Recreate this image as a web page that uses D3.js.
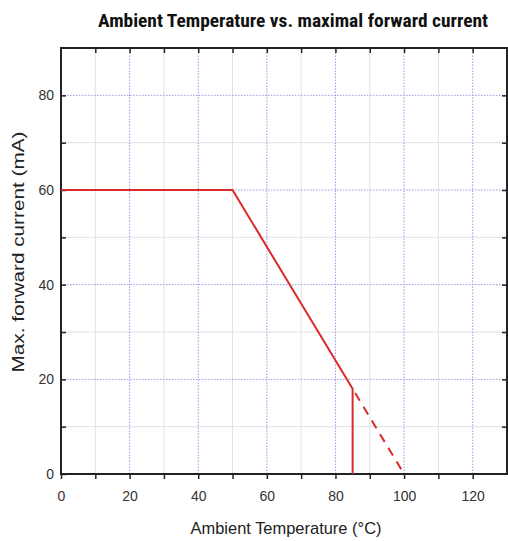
<!DOCTYPE html>
<html>
<head>
<meta charset="utf-8">
<script src="https://cdn.jsdelivr.net/npm/d3@7"></script>
<style>
  body { margin: 0; background: #fff; }
</style>
</head>
<body>
<svg id="chart"></svg>
<script>
// derating curve: max forward current vs ambient temperature
const solidTemp = [0, 50, 85, 85];
const solidCurrent = [60, 60, 18, 0];
const dashedTemp = [85, 100];
const dashedCurrent = [18, 0];
const xTicks = [0, 20, 40, 60, 80, 100, 120];
const yTicks = [0, 20, 40, 60, 80];

const width = 508;
const height = 541;
const margin = { top: 48, right: 0, bottom: 67, left: 61 };

const svg = d3.select("#chart").attr("width", width).attr("height", height);

const x = d3.scaleLinear([0, 130], [margin.left, width - margin.right - 1]);
const y = d3.scaleLinear([0, 90], [height - margin.bottom, margin.top]);

const font = "Arial, 'Liberation Sans', sans-serif";

// minor grid (solid light grey)
svg.append("g")
  .selectAll("line")
  .data(d3.range(10, 130, 20))
  .join("line")
  .attr("x1", (d) => x(d)).attr("x2", (d) => x(d))
  .attr("y1", y(0)).attr("y2", y(90))
  .style("stroke", "#e2e2e2");
svg.append("g")
  .selectAll("line")
  .data(d3.range(10, 90, 20))
  .join("line")
  .attr("y1", (d) => y(d)).attr("y2", (d) => y(d))
  .attr("x1", x(0)).attr("x2", x(130))
  .style("stroke", "#e2e2e2");

// major grid (dotted blue)
svg.append("g")
  .selectAll("line")
  .data(xTicks.slice(1))
  .join("line")
  .attr("x1", (d) => x(d)).attr("x2", (d) => x(d))
  .attr("y1", y(0)).attr("y2", y(90))
  .style("stroke", "#9a9ae6")
  .style("stroke-dasharray", "1.5,1.5");
svg.append("g")
  .selectAll("line")
  .data(yTicks.slice(1))
  .join("line")
  .attr("y1", (d) => y(d)).attr("y2", (d) => y(d))
  .attr("x1", x(0)).attr("x2", x(130))
  .style("stroke", "#9a9ae6")
  .style("stroke-dasharray", "1.5,1.5");

// axes
const styleAxis = (g) => {
  g.select(".domain").remove();
  g.selectAll(".tick line").style("stroke", "#222").style("stroke-width", 1.5);
  g.selectAll(".tick text").style("font-family", font).style("font-size", "14px").style("fill", "#333");
};

svg.append("g")
  .attr("transform", `translate(0,${y(0)})`)
  .call(d3.axisBottom(x).tickValues(d3.range(0, 130, 10)).tickSize(5).tickPadding(12)
    .tickFormat((d) => (xTicks.includes(d) ? d : "")))
  .call(styleAxis);

svg.append("g")
  .attr("transform", `translate(0,${y(90)})`)
  .call(d3.axisBottom(x).tickValues(d3.range(10, 130, 10)).tickSize(5).tickFormat(""))
  .call(styleAxis);

svg.append("g")
  .attr("transform", `translate(${x(0)},0)`)
  .call(d3.axisRight(y).tickValues(d3.range(0, 90, 10)).tickSize(5)
    .tickFormat(""))
  .call(styleAxis);

svg.append("g")
  .attr("transform", `translate(${x(0)},0)`)
  .call(d3.axisLeft(y).tickValues(yTicks).tickSize(0).tickPadding(7))
  .call(styleAxis);

svg.append("g")
  .attr("transform", `translate(${x(130)},0)`)
  .call(d3.axisLeft(y).tickValues(d3.range(10, 90, 10)).tickSize(5).tickFormat(""))
  .call(styleAxis);

// frame
svg.append("rect")
  .attr("x", x(0)).attr("y", y(90))
  .attr("width", x(130) - x(0)).attr("height", y(0) - y(90))
  .style("fill", "none")
  .style("stroke", "#222")
  .style("stroke-width", 2);

// curves
const line = d3.line().x((d) => x(d[0])).y((d) => y(d[1]));

svg.append("path")
  .datum(d3.zip(solidTemp, solidCurrent))
  .attr("d", line)
  .style("fill", "none")
  .style("stroke", "#d82a2a")
  .style("stroke-width", 2);

svg.append("path")
  .datum(d3.zip(dashedTemp, dashedCurrent))
  .attr("d", line)
  .style("fill", "none")
  .style("stroke", "#d82a2a")
  .style("stroke-width", 2)
  .style("stroke-dasharray", "9,7")
  .style("stroke-dashoffset", -5);

// titles
svg.append("text")
  .attr("x", 293).attr("y", 27)
  .attr("text-anchor", "middle")
  .attr("textLength", 390)
  .attr("lengthAdjust", "spacingAndGlyphs")
  .style("font-family", "'Liberation Sans Narrow', 'Roboto Condensed', Arial, sans-serif")
  .style("font-weight", "bold")
  .style("font-size", "18px")
  .style("fill", "#111")
  .text("Ambient Temperature vs. maximal forward current");

svg.append("text")
  .attr("x", 286).attr("y", 534)
  .attr("text-anchor", "middle")
  .attr("textLength", 191)
  .attr("lengthAdjust", "spacingAndGlyphs")
  .style("font-family", font)
  .style("font-size", "17px")
  .style("fill", "#222")
  .text("Ambient Temperature (°C)");

svg.append("text")
  .attr("transform", `translate(24,252) rotate(-90)`)
  .attr("text-anchor", "middle")
  .attr("textLength", 241)
  .attr("lengthAdjust", "spacingAndGlyphs")
  .style("font-family", font)
  .style("font-size", "17px")
  .style("fill", "#222")
  .text("Max. forward current (mA)");
</script>
</body>
</html>
